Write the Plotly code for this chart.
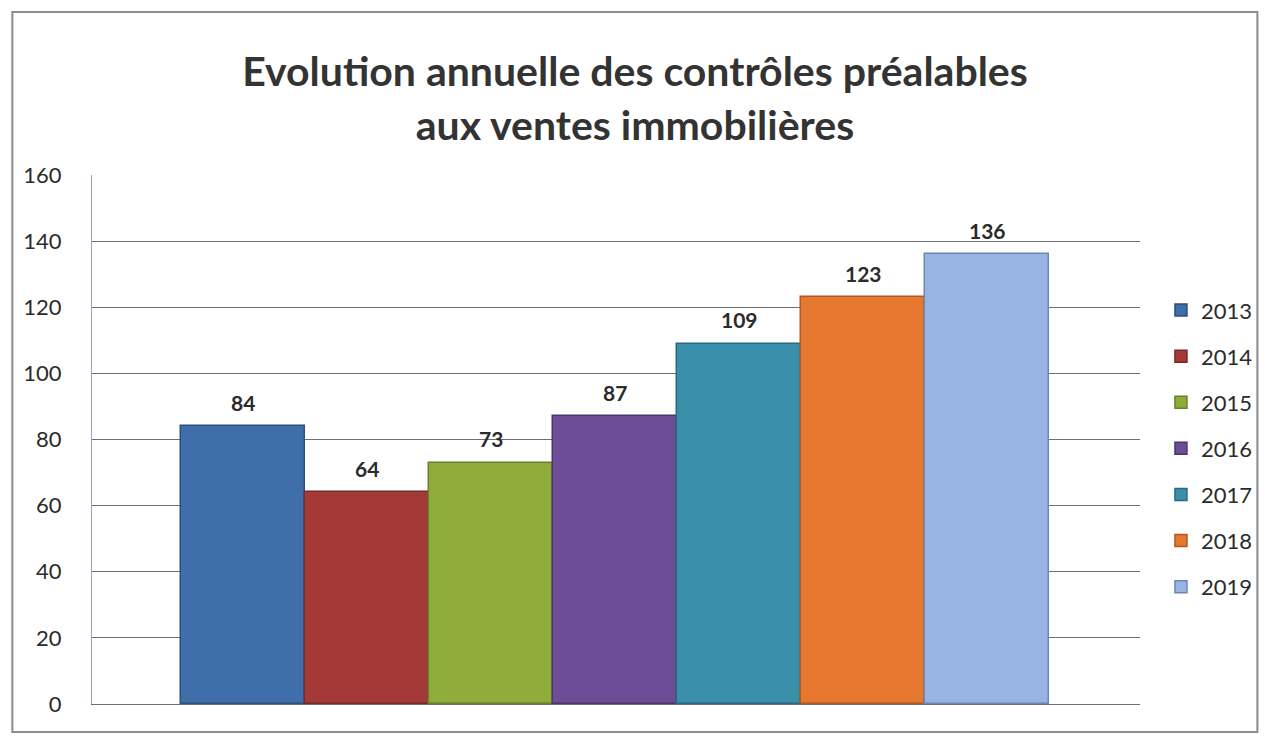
import plotly.graph_objects as go

# Data
years = ["2013", "2014", "2015", "2016", "2017", "2018", "2019"]
controles = [84, 64, 73, 87, 109, 123, 136]
colors = ["#3f6fab", "#a43a38", "#8fac3b", "#6c4d96", "#3a8fab", "#e6772f", "#97b4e2"]
edge_colors = ["#2c4f7c", "#782826", "#67802a", "#4d366d", "#286a80", "#b3581f", "#6d87b3"]

fig = go.Figure()

for i, (year, value, color, edge) in enumerate(zip(years, controles, colors, edge_colors)):
    fig.add_trace(
        go.Bar(
            x=[year],
            y=[value],
            name=year,
            legendgroup=year,
            marker=dict(color=color, line=dict(color=edge, width=1.5)),
        )
    )
    # value label above each bar (category index, since years look numeric)
    fig.add_annotation(
        x=i,
        y=value,
        text=f"<b>{value}</b>",
        showarrow=False,
        yanchor="middle",
        yshift=24,
        font=dict(family="Lato", size=21, color="#2b2b2b"),
    )

# Outer chart frame
fig.add_shape(
    type="rect",
    xref="paper",
    yref="paper",
    x0=-0.076,
    x1=1.112,
    y0=-0.053,
    y1=1.308,
    line=dict(color="#8c8c8c", width=2),
    layer="below",
)

fig.update_layout(
    width=1270,
    height=737,
    margin=dict(l=92, r=122, t=175, b=33),
    paper_bgcolor="white",
    plot_bgcolor="white",
    font=dict(family="Lato", size=22, color="#2b2b2b"),
    title=dict(
        text="<b>Evolution annuelle des contrôles préalables<br>aux ventes immobilières</b>",
        x=0.5,
        xanchor="center",
        y=0.883,
        yanchor="top",
        font=dict(family="Lato", size=41, color="#333333"),
    ),
    barmode="overlay",
    bargap=0,
    showlegend=True,
    legend=dict(
        x=1.02,
        xanchor="left",
        y=0.784,
        yanchor="top",
        font=dict(family="Lato", size=22, color="#2b2b2b"),
        tracegroupgap=14.5,
        itemwidth=30,
        bgcolor="rgba(0,0,0,0)",
    ),
    xaxis=dict(
        type="category",
        range=[-1.22, 7.23],
        showticklabels=False,
        showgrid=False,
        showline=True,
        linecolor="#6e6e6e",
        linewidth=1,
        zeroline=False,
    ),
    yaxis=dict(
        range=[0, 160],
        dtick=20,
        showgrid=True,
        gridcolor="#6f6f6f",
        gridwidth=1,
        showline=True,
        linecolor="#9aa6c0",
        linewidth=1,
        zeroline=False,
        ticklabelstandoff=25,
        tickfont=dict(family="Lato", size=22, color="#2b2b2b"),
    ),
)

fig.write_html(
    "out.html",
    config={"displayModeBar": False},
    post_script="document.body.style.margin='0px';",
)
